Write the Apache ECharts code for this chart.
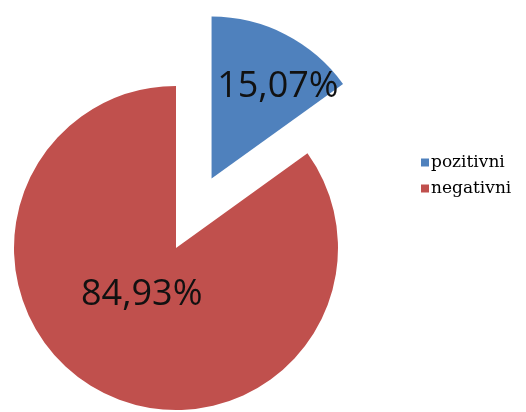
<!DOCTYPE html>
<html>
<head>
<meta charset="utf-8">
<script src="https://cdn.jsdelivr.net/npm/echarts@6/dist/echarts.min.js"></script>
<style>
html,body{margin:0;padding:0;background:#fff;}
#c{width:526px;height:412px;}
</style>
</head>
<body>
<div id="c"></div>
<script>
const categories = ['pozitivni', 'negativni'];
const values = [15.07, 84.93];
const colors = ['#4F81BD', '#C0504D'];
const labelOffsets = [[28, -17], [4, -28]];

const chart = echarts.init(document.getElementById('c'), null, {renderer: 'canvas'});
chart.setOption({
  animation: false,
  backgroundColor: '#ffffff',
  legend: {
    orient: 'vertical',
    left: 416,
    top: 149,
    itemWidth: 8,
    itemHeight: 8,
    itemGap: 9,
    icon: 'rect',
    data: categories,
    textStyle: {fontFamily: 'DejaVu Serif', fontSize: 17, color: '#000', padding: [0, 0, 0, -3]}
  },
  series: [{
    type: 'pie',
    center: [176, 248],
    radius: [0, 162],
    startAngle: 90,
    clockwise: true,
    selectedMode: 'single',
    selectedOffset: 78,
    avoidLabelOverlap: false,
    emphasis: {disabled: true},
    label: {
      position: 'inside',
      fontFamily: 'Open Sans',
      fontSize: 36,
      color: '#111',
      formatter: p => p.value.toFixed(2).replace('.', ',') + '%'
    },
    labelLine: {show: false},
    data: categories.map((c, i) => ({
      name: c,
      value: values[i],
      selected: i === 0,
      itemStyle: {color: colors[i]},
      label: {offset: labelOffsets[i]},
      select: {label: {offset: labelOffsets[i]}}
    }))
  }]
});
</script>
</body>
</html>
